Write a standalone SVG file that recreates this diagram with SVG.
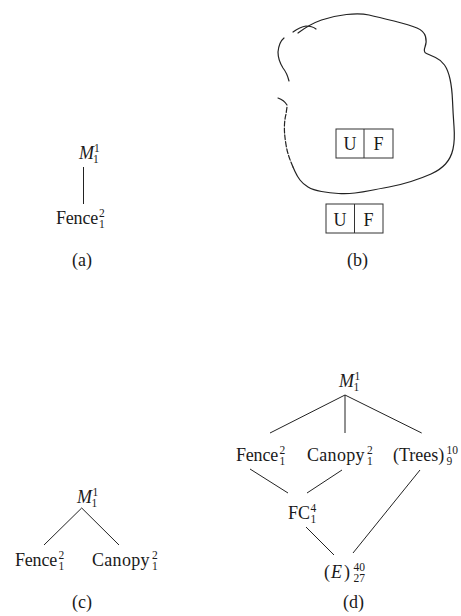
<svg xmlns="http://www.w3.org/2000/svg" width="461" height="616" viewBox="0 0 461 616">
<style>
.t{font-family:"Liberation Serif","Times New Roman",serif;font-size:18px;fill:#1a1a1a}
.i{font-style:italic}
.s{font-size:11.5px}
.c{text-anchor:middle}
.e{stroke:#222;stroke-width:1;fill:none}
.b{stroke:#222;stroke-width:1.2;fill:none;stroke-linecap:round;stroke-linejoin:round}
.box{stroke:#333;stroke-width:1;fill:none}
</style>
<rect width="461" height="616" fill="#fff"/>

<!-- (a) -->
<g id="a-M">
<text class="t"><tspan class="i" x="79" y="159">M</tspan><tspan class="s" x="94" y="152">1</tspan><tspan class="s" x="93" y="163">1</tspan></text>
</g>
<g id="a-Fence">
<text class="t"><tspan x="56" y="224" letter-spacing="-0.2">Fence</tspan><tspan class="s" x="99" y="217">2</tspan><tspan class="s" x="99" y="228">1</tspan></text>
</g>
<g id="a-label"><text class="t" x="72" y="266">(a)</text></g>

<!-- (b) -->
<g id="b-region">
<path class="b" d="M 298 33 Q 310 24 321.5 20 Q 333 16 346.5 14.5 Q 360 13 369 15 Q 378 17 394 21 Q 410 25 417 28 Q 424 31 425.5 36.5 Q 427 42 425 47 Q 423 52 426.5 53.5 Q 430 55 435.5 57.5 Q 441 60 444.5 65 Q 448 70 450 79 Q 452 88 452.5 100.5 Q 453 113 454 126.5 Q 455 140 453 149 Q 451 158 445.5 164 Q 440 170 431 174 Q 422 178 411 181.5 Q 400 185 389 187 Q 378 189 370.5 190.5 Q 363 192 355 193 Q 347 194 338.5 193.5 Q 330 193 321.5 191.5 Q 313 190 308 187 Q 303 184 300 180 Q 297 176 295 171.5 L 293 167"/>
<path class="b" stroke-dasharray="5 2" stroke-width="0.9" d="M 293 167 Q 289 158 287 150 Q 285 140 284.5 132 Q 284 122 286 114 L 287 107"/>
<path class="b" d="M 287 105 Q 284 100 278 98"/>
<path class="b" d="M 289 81 Q 287 73 283 68 Q 278 60 278 52 Q 279 42 284 38"/>
<path class="b" d="M 293 32 Q 300 27 306 26 Q 312 26 316 29"/>
</g>
<g id="b-box1">
<rect class="box" x="336" y="129" width="57" height="29"/><line class="box" x1="364" y1="129" x2="364" y2="158"/>
<text class="t c" x="350" y="150">U</text><text class="t c" x="378.5" y="150">F</text>
</g>
<g id="b-box2">
<rect class="box" x="326" y="204" width="57" height="29"/><line class="box" x1="354.5" y1="204" x2="354.5" y2="233"/>
<text class="t c" x="340" y="226">U</text><text class="t c" x="368.5" y="226">F</text>
</g>
<g id="b-label"><text class="t" x="347" y="266">(b)</text></g>

<!-- (c) -->
<g id="c-M">
<text class="t"><tspan class="i" x="77" y="503">M</tspan><tspan class="s" x="92.5" y="496">1</tspan><tspan class="s" x="91.5" y="507">1</tspan></text>
</g>
<g id="c-Fence">
<text class="t"><tspan x="15" y="566" letter-spacing="-0.2">Fence</tspan><tspan class="s" x="58.5" y="559">2</tspan><tspan class="s" x="58.5" y="570">1</tspan></text>
</g>
<g id="c-Canopy">
<text class="t"><tspan x="92" y="566" letter-spacing="0.3">Canopy</tspan><tspan class="s" x="152" y="559">2</tspan><tspan class="s" x="152" y="570">1</tspan></text>
</g>
<g id="c-label"><text class="t" x="72" y="608">(c)</text></g>

<!-- (d) -->
<g id="d-M">
<text class="t"><tspan class="i" x="339" y="387">M</tspan><tspan class="s" x="354.5" y="380">1</tspan><tspan class="s" x="353.5" y="391">1</tspan></text>
</g>
<g id="d-Fence">
<text class="t"><tspan x="236" y="461" letter-spacing="-0.2">Fence</tspan><tspan class="s" x="279.5" y="454">2</tspan><tspan class="s" x="279.5" y="465">1</tspan></text>
</g>
<g id="d-Canopy">
<text class="t"><tspan x="307" y="461" letter-spacing="0.3">Canopy</tspan><tspan class="s" x="367" y="454">2</tspan><tspan class="s" x="367" y="465">1</tspan></text>
</g>
<g id="d-Trees">
<text class="t"><tspan x="393" y="461">(Trees)</tspan><tspan class="s" x="446.5" y="454">10</tspan><tspan class="s" x="446.5" y="465">9</tspan></text>
</g>
<g id="d-FC">
<text class="t"><tspan x="288" y="519">FC</tspan><tspan class="s" x="310.5" y="512">4</tspan><tspan class="s" x="310.5" y="523">1</tspan></text>
</g>
<g id="d-E">
<text class="t"><tspan x="324" y="578">(</tspan><tspan class="i" x="331" y="578">E</tspan><tspan x="344" y="578">)</tspan><tspan class="s" x="353.5" y="571">40</tspan><tspan class="s" x="353.5" y="582">27</tspan></text>
</g>
<g id="d-label"><text class="t" x="343" y="608">(d)</text></g>

<g id="connectors">
<line class="e" x1="83.5" y1="167" x2="83.5" y2="204"/>
<line class="e" x1="81.7" y1="508" x2="44" y2="545"/>
<line class="e" x1="81.7" y1="508" x2="119" y2="545"/>
<line class="e" x1="345" y1="395" x2="270" y2="433"/>
<line class="e" x1="345" y1="395" x2="345" y2="433"/>
<line class="e" x1="345" y1="395" x2="421.7" y2="433"/>
<line class="e" x1="250" y1="469" x2="288" y2="493"/>
<line class="e" x1="342" y1="470" x2="307" y2="493"/>
<line class="e" x1="420" y1="470" x2="353" y2="553"/>
<line class="e" x1="306" y1="527" x2="334" y2="555"/>
</g>
</svg>
